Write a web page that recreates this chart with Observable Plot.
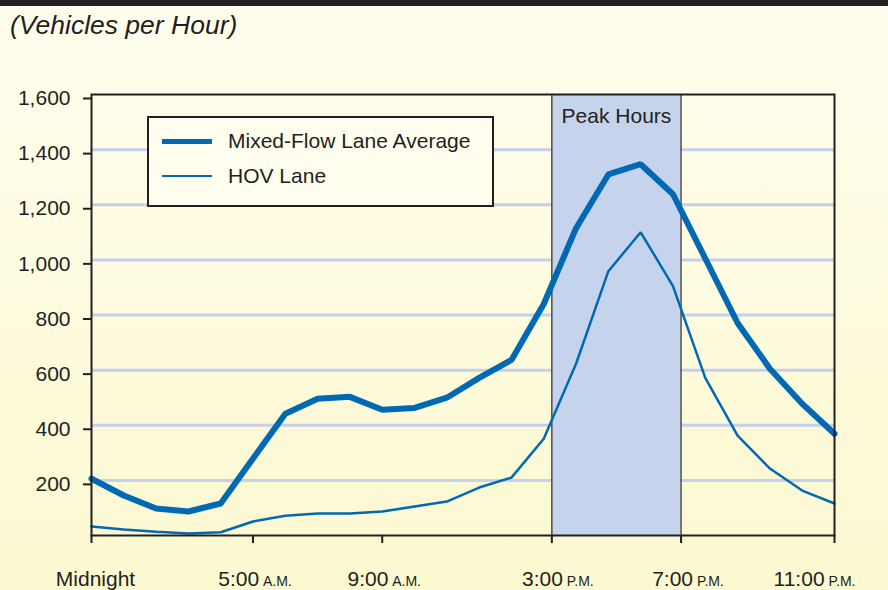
<!DOCTYPE html>
<html>
<head>
<meta charset="utf-8">
<script src="https://cdn.jsdelivr.net/npm/d3@7"></script>
<script src="https://cdn.jsdelivr.net/npm/@observablehq/plot@0.6"></script>
<style>
  html, body { margin: 0; padding: 0; }
  body { width: 888px; height: 590px; overflow: hidden; font-family: "Liberation Sans", Arial, sans-serif; color: #231f20; }
  #wrap { position: relative; width: 888px; height: 590px; background: linear-gradient(#fffeee, #fcf8d0); }
  #band { position: absolute; left: 0; top: 0; width: 888px; height: 6px; background: #231f20; }
  #title { position: absolute; left: 10px; top: 10px; font-size: 26.5px; font-style: italic; line-height: 30px; white-space: nowrap; }
  #chart { position: absolute; left: 0; top: 56px; }
  #legend { position: absolute; left: 147px; top: 116px; width: 347px; height: 91px; box-sizing: border-box; border: 2px solid #231f20; background: #fffeef; }
  .sw { position: absolute; left: 13px; width: 50px; background: #0069b4; }
  .lt { position: absolute; left: 79px; font-size: 21px; line-height: 24px; white-space: nowrap; }
</style>
</head>
<body>
<div id="wrap">
  <div id="band"></div>
  <div id="title">(Vehicles per Hour)</div>
  <div id="chart"></div>
  <div id="legend"></div>
</div>
<script>
// ---- data ----
const hours = [0,1,2,3,4,5,6,7,8,9,10,11,12,13,14,15,16,17,18,19,20,21,22,23];
const mixedFlow = [206,145,98,87,116,279,442,496,503,456,463,500,572,637,840,1115,1310,1347,1238,1005,771,605,478,369];
const hovLane  = [33,22,14,7,12,51,72,80,80,87,105,123,174,210,351,623,959,1100,905,572,362,243,163,116];
const seriesNames = ["Mixed-Flow Lane Average", "HOV Lane"];
const xTickValues = [0, 5, 9, 14.25, 18.25, 23];
const xTickLabels = ["Midnight", "5:00 A.M.", "9:00 A.M.", "3:00 P.M.", "7:00 P.M.", "11:00 P.M."];
const yTickValues = [200, 400, 600, 800, 1000, 1200, 1400, 1600];
const gridValues = [200, 400, 600, 800, 1000, 1200, 1400];
const peakHours = [{start: 14.25, end: 18.25, label: "Peak Hours"}];

const lineColor = "#0069b4";
const ink = "#231f20";
// horizontal nudges of the x tick labels, as in the original layout
const labelNudge = [4, 2, 2, 6, 7, -20];

const mixedRows = hours.map((h, i) => ({hour: h, value: mixedFlow[i]}));
const hovRows = hours.map((h, i) => ({hour: h, value: hovLane[i]}));

const chart = Plot.plot({
  width: 888,
  height: 534,
  marginLeft: 91,
  marginRight: 54,
  marginTop: 38,
  marginBottom: 55,
  style: {background: "transparent", fontFamily: "'Liberation Sans', Arial, sans-serif", color: ink},
  x: {domain: [0, 23]},
  y: {domain: [0, 1600]},
  marks: [
    Plot.ruleY(gridValues, {stroke: "#c4d0ec", strokeWidth: 3}),
    Plot.rect(peakHours, {x1: "start", x2: "end", y1: 0, y2: 1600, fill: "#c6d3ed"}),
    Plot.ruleX(peakHours, {x: "start", y1: 0, y2: 1600, stroke: "#4d4d4d", strokeWidth: 1.5}),
    Plot.ruleX(peakHours, {x: "end", y1: 0, y2: 1600, stroke: "#4d4d4d", strokeWidth: 1.5}),
    Plot.text(peakHours, {x: d => (d.start + d.end) / 2, y: 1600, text: "label", dy: 22, fontSize: 21, fill: ink}),
    Plot.line(hovRows, {x: "hour", y: "value", stroke: lineColor, strokeWidth: 2.5, strokeLinejoin: "miter"}),
    Plot.line(mixedRows, {x: "hour", y: "value", stroke: lineColor, strokeWidth: 6, strokeLinejoin: "miter"}),
    Plot.frame({stroke: ink, strokeWidth: 2}),
    Plot.axisY({ticks: yTickValues, tickFormat: d3.format(","), tickSize: 8, tickPadding: 13, fontSize: 21, dy: 4, strokeWidth: 2, label: null, color: ink}),
    Plot.axisX({ticks: xTickValues, tickFormat: (d) => xTickLabels[xTickValues.indexOf(d)], tickSize: 8, tickPadding: 28, fontSize: 21, strokeWidth: 2, label: null, color: ink})
  ]
});

// small-caps style for A.M./P.M. and label nudges
d3.select(chart).selectAll('g[aria-label="x-axis tick label"] text').each(function(d, i) {
  const t = this.textContent;
  const idx = xTickLabels.indexOf(t);
  const sel = d3.select(this);
  if (idx >= 0) sel.attr("dx", labelNudge[idx]);
  const m = t.match(/^(\S+)\s+(A\.M\.|P\.M\.)$/);
  if (m) {
    sel.text(null);
    sel.append("tspan").text(m[1]);
    sel.append("tspan").attr("font-size", 14).text("\u00a0" + m[2]);
  }
});

document.getElementById("chart").appendChild(chart);

// legend
const legend = document.getElementById("legend");
const widths = [5, 2.5];
const centers = [23, 58];
seriesNames.forEach((name, i) => {
  const sw = document.createElement("div");
  sw.className = "sw";
  sw.style.height = widths[i] + "px";
  sw.style.top = (centers[i] - widths[i] / 2) + "px";
  legend.appendChild(sw);
  const lt = document.createElement("div");
  lt.className = "lt";
  lt.style.top = (centers[i] - 12) + "px";
  lt.textContent = name;
  legend.appendChild(lt);
});
</script>
</body>
</html>
